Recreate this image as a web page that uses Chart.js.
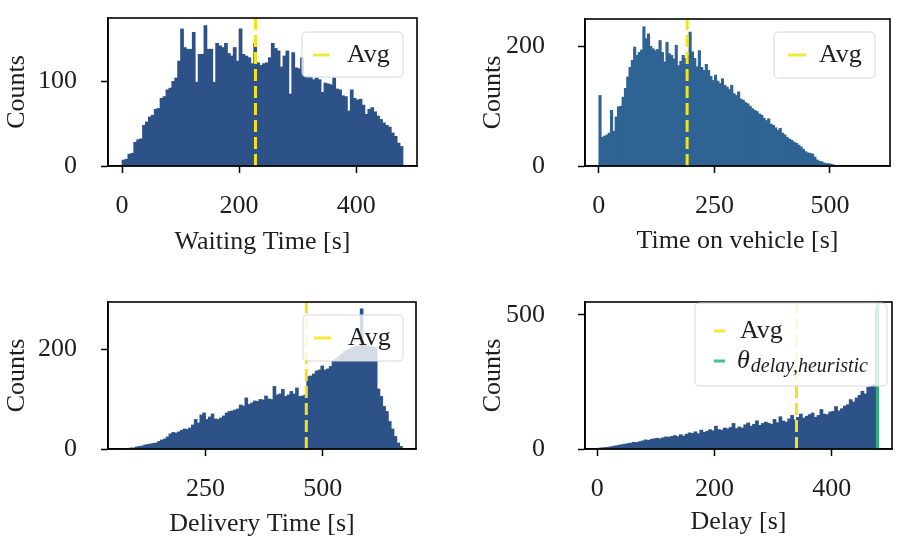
<!DOCTYPE html>
<html><head><meta charset="utf-8">
<script src="https://cdn.jsdelivr.net/npm/chart.js@4.4.1/dist/chart.umd.min.js"></script>
<style>
html,body{margin:0;padding:0;background:#fff;}
#wrap{position:relative;width:914px;height:546px;overflow:hidden;background:#fff;}
.cell{position:absolute;width:457px;height:273px;}
canvas{display:block;}
</style></head><body>
<div id="wrap">
<div class="cell" style="left:0;top:0"><canvas id="c1" width="457" height="273"></canvas></div>
<div class="cell" style="left:457px;top:0"><canvas id="c2" width="457" height="273"></canvas></div>
<div class="cell" style="left:0;top:273px"><canvas id="c3" width="457" height="273"></canvas></div>
<div class="cell" style="left:457px;top:273px"><canvas id="c4" width="457" height="273"></canvas></div>
</div>
<script>
// ---------------- DATA ----------------
const waitingBinStart = 0, waitingBinWidth = 5;
const waitingCounts = [7,8,14,15,28,31,32,48,52,58,60,67,68,80,82,90,92,100,104,124,
162,140,138,138,158,99,132,132,166,138,138,99,145,142,140,145,133,130,140,124,
162,132,130,128,121,145,122,119,121,122,128,145,139,136,117,130,136,85,134,116,
115,128,106,106,105,102,104,102,87,98,97,96,104,91,90,83,82,65,90,80,
78,79,72,61,67,69,64,59,55,51,48,46,39,35,27,23];
const waitingAvg = 228;
const waitingXTicks = [0,200,400];
const waitingYTicks = [0,100];

const vehicleBinStart = 0, vehicleBinWidth = 5;
const vehicleCounts = [118,48,50,52,55,93,58,82,99,100,
115,130,149,165,177,199,185,190,194,233,
213,221,200,196,193,195,210,190,174,207,
188,185,179,202,168,175,185,180,185,224,
191,180,166,193,165,160,170,160,150,143,
152,142,138,146,135,132,128,135,121,118,
124,112,110,106,104,100,96,93,91,87,
85,80,76,79,70,68,64,60,63,55,
52,48,45,43,40,38,35,32,28,24,
22,21,20,15,10,8,7,5,4,4,
3,2,1,1];
const vehicleAvg = 191;
const vehicleXTicks = [0,250,500];
const vehicleYTicks = [0,200];

const deliveryBinStart = 70, deliveryBinWidth = 6;
const deliveryCounts = [1,1,1,2,2,4,5,6,8,9,
10,11,12,15,18,20,24,30,33,32,
34,37,40,39,42,48,59,52,68,72,
59,64,70,60,59,62,66,72,75,76,
78,80,88,86,102,89,92,96,95,99,
98,106,100,99,125,108,110,119,105,108,
115,110,122,105,106,108,145,146,150,156,
158,166,158,160,165,176,180,185,190,195,
198,200,203,205,206,280,206,207,205,204,
203,120,105,85,75,55,40,25,12,5];
const deliveryAvg = 465;
const deliveryXTicks = [250,500];
const deliveryYTicks = [0,200];

const delayBinStart = 0, delayBinWidth = 5;
const delayCounts = [3,4,5,6,8,10,12,14,16,18,
20,22,25,24,27,30,34,32,36,38,
40,38,42,45,44,47,50,46,53,48,
55,60,58,64,57,70,62,66,72,68,
85,72,70,78,75,80,95,76,82,78,
90,97,85,92,105,88,95,100,96,92,
110,98,120,104,100,112,125,108,118,130,
115,122,128,134,118,125,147,130,128,138,
140,158,142,150,160,165,184,175,190,200,
215,205,230,235,240,522];
const delayAvg = 340;
const delayTheta = 478;
const delayXTicks = [0,200,400];
const delayYTicks = [0,500];

// ---------------- STYLE ----------------
const FONT = '"Liberation Serif", "DejaVu Serif", serif';
const TXT = '#1e1e1e';
const BAR = '#2c5288';
const BAR2 = '#2f6393';
const YELLOW = '#f2e31c';
const GREEN = '#2db37a';

const framePlugin = {
  id: 'frame',
  afterDatasetsDraw(chart) {
    const {ctx, chartArea: a} = chart;
    ctx.save();
    ctx.strokeStyle = '#000';
    ctx.lineWidth = 1.6;
    ctx.strokeRect(a.left, a.top, a.right - a.left, a.bottom - a.top);
    ctx.restore();
  }
};

const boxLegend = {
  id: 'boxLegend',
  afterDraw(chart, args, o) {
    if (!o || !o.width) return;
    const {ctx, chartArea: a} = chart;
    const items = chart.data.datasets.filter(d => d.type === 'line');
    const x = a.right - o.right - o.width;
    const y = a.top + o.top;
    const w = o.width, h = o.height, r = 5;
    ctx.save();
    ctx.beginPath();
    ctx.moveTo(x + r, y);
    ctx.lineTo(x + w - r, y); ctx.quadraticCurveTo(x + w, y, x + w, y + r);
    ctx.lineTo(x + w, y + h - r); ctx.quadraticCurveTo(x + w, y + h, x + w - r, y + h);
    ctx.lineTo(x + r, y + h); ctx.quadraticCurveTo(x, y + h, x, y + h - r);
    ctx.lineTo(x, y + r); ctx.quadraticCurveTo(x, y, x + r, y);
    ctx.closePath();
    ctx.fillStyle = 'rgba(255,255,255,0.8)';
    ctx.fill();
    ctx.strokeStyle = '#d6d6d6';
    ctx.lineWidth = 1;
    ctx.stroke();
    items.forEach((d, i) => {
      const cy = y + o.rows[i];
      ctx.globalAlpha = 0.85;
      ctx.strokeStyle = d.borderColor;
      ctx.lineWidth = 3;
      ctx.setLineDash([]);
      ctx.beginPath();
      ctx.moveTo(x + o.h0, cy); ctx.lineTo(x + o.h1, cy);
      ctx.stroke();
      ctx.globalAlpha = 1;
      ctx.fillStyle = TXT;
      ctx.textBaseline = 'middle';
      ctx.textAlign = 'left';
      const parts = d.label.split('_');
      if (parts.length === 1) {
        ctx.font = '26px ' + FONT;
        ctx.fillText(parts[0], x + o.tx, cy);
      } else {
        ctx.font = 'italic 26px ' + FONT;
        const tx = x + o.tx - 3;
        ctx.fillText(parts[0], tx, cy);
        const mw = ctx.measureText(parts[0]).width;
        ctx.font = 'italic 20px ' + FONT;
        ctx.fillText(parts[1], tx + mw + 1, cy + 6);
      }
    });
    ctx.restore();
  }
};

function makeHist(id, cfg) {
  const datasets = [];
  cfg.lines.forEach(l => {
    datasets.push({
      type: 'line', label: l.label, order: 0,
      data: [{x: l.x, y: 0}, {x: l.x, y: cfg.ymax}],
      borderColor: l.color, borderWidth: 3, borderDash: l.dash,
      pointRadius: 0, fill: false, tension: 0
    });
  });
  datasets.push({
    type: 'bar', label: 'Counts', order: 1,
    data: cfg.counts.map((c, i) => ({x: cfg.start + cfg.width * (i + 0.5), y: c})),
    backgroundColor: cfg.color, borderWidth: 0,
    barPercentage: 1, categoryPercentage: 1, inflateAmount: 0.4
  });
  const tickFont = {family: FONT, size: 26};
  new Chart(document.getElementById(id), {
    type: 'bar',
    data: {datasets},
    options: {
      responsive: false, animation: false, events: [],
      layout: {padding: {left: 0, top: cfg.top, right: cfg.right, bottom: 0}},
      plugins: {legend: {display: false}, tooltip: {enabled: false}, boxLegend: cfg.legend},
      scales: {
        x: {
          type: 'linear', min: cfg.xmin, max: cfg.xmax, offset: false,
          afterFit: s => { s.height = cfg.xh; s.paddingLeft = 0; s.paddingRight = 0; },
          afterBuildTicks: s => { s.ticks = cfg.xticks.map(v => ({value: v})); },
          grid: {display: true, drawOnChartArea: false, drawTicks: true, tickLength: 7, tickColor: '#000', tickWidth: 1.5, offset: false},
          border: {display: true, color: '#000', width: 1.6},
          ticks: {font: tickFont, color: TXT, padding: 18, maxRotation: 0, autoSkip: false, callback: v => String(v)},
          title: {display: true, text: cfg.xtitle, font: tickFont, color: TXT, padding: {top: 0, bottom: cfg.xtpad}}
        },
        y: {
          type: 'linear', min: 0, max: cfg.ymax,
          afterFit: s => { s.width = cfg.yw; s.paddingTop = 0; s.paddingBottom = 0; },
          afterBuildTicks: s => { s.ticks = cfg.yticks.map(v => ({value: v})); },
          grid: {display: true, drawOnChartArea: false, drawTicks: true, tickLength: 7, tickColor: '#000', tickWidth: 1.5},
          border: {display: true, color: '#000', width: 1.6},
          ticks: {font: tickFont, color: TXT, padding: cfg.ypad, autoSkip: false, callback: v => String(v)},
          title: {display: true, text: 'Counts', font: tickFont, color: TXT, padding: {top: cfg.ytpad, bottom: 0}}
        }
      }
    },
    plugins: [framePlugin, boxLegend]
  });
}

makeHist('c1', {
  counts: waitingCounts, start: waitingBinStart, width: waitingBinWidth, color: BAR,
  xmin: -24, xmax: 504, ymax: 175, xticks: waitingXTicks, yticks: waitingYTicks,
  xtitle: 'Waiting Time [s]', top: 18, right: 40, xh: 107, yw: 108, ypad: 24, ytpad: 2, xtpad: 15,
  lines: [{label: 'Avg', x: waitingAvg, color: YELLOW, dash: [12, 5]}],
  legend: {width: 101, height: 45, right: 14, top: 14, rows: [23], h0: 11, h1: 28, tx: 45}
});
makeHist('c2', {
  counts: vehicleCounts, start: vehicleBinStart, width: vehicleBinWidth, color: BAR2,
  xmin: -30, xmax: 630, ymax: 246, xticks: vehicleXTicks, yticks: vehicleYTicks,
  xtitle: 'Time on vehicle [s]', top: 19, right: 24, xh: 107, yw: 128, ypad: 33, ytpad: 21, xtpad: 16,
  lines: [{label: 'Avg', x: vehicleAvg, color: YELLOW, dash: [12, 5]}],
  legend: {width: 101, height: 46, right: 15, top: 13, rows: [23], h0: 14, h1: 32, tx: 45}
});
makeHist('c3', {
  counts: deliveryCounts, start: deliveryBinStart, width: deliveryBinWidth, color: BAR,
  xmin: 42, xmax: 699, ymax: 294, xticks: deliveryXTicks, yticks: deliveryYTicks,
  xtitle: 'Delivery Time [s]', top: 29, right: 41, xh: 97, yw: 108, ypad: 24, ytpad: 2, xtpad: 6,
  lines: [{label: 'Avg', x: deliveryAvg, color: YELLOW, dash: [12, 5]}],
  legend: {width: 100, height: 46, right: 13, top: 13, rows: [23], h0: 11, h1: 28, tx: 45}
});
makeHist('c4', {
  counts: delayCounts, start: delayBinStart, width: delayBinWidth, color: BAR,
  xmin: -21, xmax: 503, ymax: 548, xticks: delayXTicks, yticks: delayYTicks,
  xtitle: 'Delay [s]', top: 29, right: 22, xh: 97, yw: 128, ypad: 33, ytpad: 21, xtpad: 8,
  lines: [{label: 'Avg', x: delayAvg, color: YELLOW, dash: [12, 5]},
          {label: 'θ_delay,heuristic', x: delayTheta, color: GREEN, dash: []}],
  legend: {width: 192, height: 83, right: 5, top: 1, rows: [28, 58], h0: 19, h1: 30, tx: 45}
});
</script>
</body></html>
